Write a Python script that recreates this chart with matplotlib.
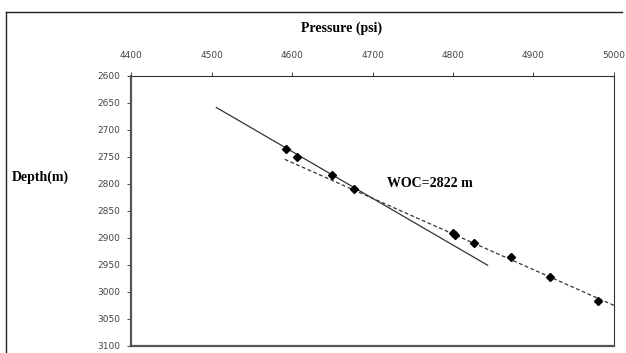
import numpy as np
import matplotlib.pyplot as plt
from matplotlib.lines import Line2D

# measured points (pressure psi, depth m)
pressure = [4593, 4606, 4650, 4677, 4800, 4803, 4826, 4872, 4921, 4980]
depth = [2736, 2750, 2784, 2810, 2892, 2895, 2910, 2936, 2973, 3017]

# gradient lines
oil_line_p = [4506, 4843]
oil_line_d = [2659, 2951]
water_line_p = [4591, 5010]
water_line_d = [2755, 3032]

x_ticks = [4400, 4500, 4600, 4700, 4800, 4900, 5000]
y_ticks = [2600, 2650, 2700, 2750, 2800, 2850, 2900, 2950, 3000, 3050, 3100]

fig = plt.figure(figsize=(6.26, 3.53), dpi=100)
# outer chart frame (left and top edges visible)
fig.lines.append(Line2D([0.0096, 0.0096], [0.0, 0.966], transform=fig.transFigure,
                        color="#222222", linewidth=1.0))
fig.lines.append(Line2D([0.0096, 0.994], [0.966, 0.966], transform=fig.transFigure,
                        color="#222222", linewidth=1.0))

ax = fig.add_axes([0.2093, 0.0207, 0.7715, 0.7651])
ax.plot(oil_line_p, oil_line_d, "-", color="#333333", linewidth=0.9)
ax.plot(water_line_p, water_line_d, "--", color="#333333", linewidth=0.9, dashes=(3, 2))
ax.plot(pressure, depth, "D", color="black", markersize=4)

ax.set_xlim(4400, 5000)
ax.set_ylim(3100, 2600)
ax.set_xticks(x_ticks)
ax.set_yticks(y_ticks)
ax.xaxis.tick_top()
ax.tick_params(axis="both", direction="out", length=3, width=0.7, labelsize=6.5,
               labelcolor="#444444", colors="#444444")
ax.tick_params(axis="x", pad=8)
ax.tick_params(axis="y", pad=5)
for side in ["top", "right"]:
    ax.spines[side].set_linewidth(0.8)
    ax.spines[side].set_color("#333333")
for side in ["left", "bottom"]:
    ax.spines[side].set_linewidth(1.6)
    ax.spines[side].set_color("#555555")

serif = ["Liberation Serif", "DejaVu Serif"]
fig.text(0.545, 0.92, "Pressure (psi)", family=serif, weight="bold", fontsize=10,
         ha="center", va="center")
fig.text(0.064, 0.499, "Depth(m)", family=serif, weight="bold", fontsize=10,
         ha="center", va="center")
ax.text(4771, 2799, "WOC=2822 m", family=serif, weight="bold", fontsize=10,
        ha="center", va="center")

fig.savefig("out.png", dpi=100)
